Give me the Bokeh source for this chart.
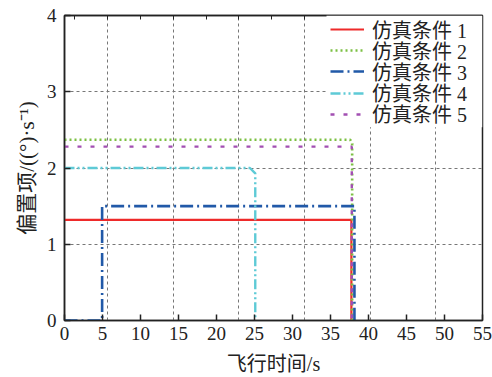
from bokeh.plotting import figure
from bokeh.models import (FixedTicker, LinearAxis, Legend, LegendItem, Range1d,
                          CustomLabelingPolicy, BoxAnnotation)
from bokeh.embed import file_html
from bokeh.resources import INLINE

# Bias term time histories for the five simulation conditions
x1 = [0, 37.75, 37.75]
y1 = [1.32, 1.32, 0]

x2 = [0, 37.6, 37.85, 37.85]
y2 = [2.37, 2.37, 2.32, 0]

x3 = [0, 4.95, 4.95, 38.15, 38.15]
y3 = [0, 0, 1.50, 1.50, 0]

x4 = [0, 24.4, 25.1, 25.1]
y4 = [2.0, 2.0, 1.93, 0]

x5 = [0, 37.8, 37.8]
y5 = [2.28, 2.28, 0]

labels = ["仿真条件 1", "仿真条件 2", "仿真条件 3", "仿真条件 4", "仿真条件 5"]
x_ticks = list(range(0, 56, 5))
y_ticks = [0, 1, 2, 3, 4]

FONT = "Liberation Serif, Noto Sans CJK SC"
W, H = 492, 377
LEFT, RIGHT, TOP, BOTTOM = 64, 10, 15, 56

p = figure(width=W, height=H, output_backend="svg", toolbar_location=None,
           x_range=Range1d(0, 55), y_range=Range1d(0, 4),
           min_border_left=LEFT, min_border_right=RIGHT, min_border_top=TOP,
           min_border_bottom=BOTTOM, background_fill_color="white",
           border_fill_color="white")

p.outline_line_color = "#222222"
p.outline_line_width = 1.5

# grid
p.xgrid.ticker = FixedTicker(ticks=[5.68, 14.32, 22.95, 31.59, 40.22, 48.86])
p.ygrid.ticker = FixedTicker(ticks=[1, 2, 3])
for g in (p.xgrid, p.ygrid):
    g.grid_line_color = "#777777"
    g.grid_line_dash = "3 3"
    g.grid_line_width = 1

for ax in (p.xaxis[0], p.yaxis[0]):
    ax.axis_line_color = "#222222"
    ax.axis_line_width = 1.5
    ax.major_tick_in = 6
    ax.major_tick_out = 0
    ax.minor_tick_in = 0
    ax.minor_tick_out = 0
    ax.major_tick_line_color = "#222222"
    ax.major_tick_line_width = 1.5
    ax.major_label_text_font = FONT
    ax.major_label_text_font_size = "19px"
    ax.major_label_text_color = "#222222"
    ax.axis_label_text_font = FONT
    ax.axis_label_text_font_style = "normal"
    ax.axis_label_text_color = "#222222"

p.xaxis.ticker = FixedTicker(ticks=x_ticks)
p.yaxis.ticker = FixedTicker(ticks=y_ticks)
p.xaxis.axis_label = "飞行时间/s"
p.yaxis.axis_label = "偏置项/((°)·s⁻¹)"
p.xaxis.axis_label_text_font_size = "20px"
p.yaxis.axis_label_text_font_size = "21px"
p.xaxis.major_label_standoff = 6
p.yaxis.major_label_standoff = 8
p.xaxis.axis_label_standoff = 10
p.yaxis.axis_label_standoff = 5

# top axis: tick marks only, no labels
hide_all = CustomLabelingPolicy(code="for (const i of indices) indices.unset(i)")
top = LinearAxis(ticker=FixedTicker(ticks=[1.36 + 4.318 * k for k in range(13)]),
                 major_label_policy=hide_all, major_label_text_font_size="0px",
                 major_tick_in=4, major_tick_out=0, minor_tick_in=0, minor_tick_out=0,
                 axis_line_color="#222222", major_tick_line_color="#222222",
                 axis_line_width=1.5)
p.add_layout(top, "above")

r1 = p.line(x1, y1, line_color="#ee2a2a", line_width=2.2)
r2 = p.line(x2, y2, line_color="#7cc043", line_width=2.6, line_dash="2 3")
r3 = p.line(x3, y3, line_color="#2159a8", line_width=2.6, line_dash="13 4 2 4")
r4 = p.line(x4, y4, line_color="#5ecad6", line_width=2.4, line_dash="10 3 2 3 2 3")
r5 = p.line(x5, y5, line_color="#a24fb2", line_width=2.4, line_dash="4 9")

# legend: white panel in the upper right, then one row per condition
frame_h = H - TOP - BOTTOM
px_x = 55 / (W - LEFT - RIGHT)
px_y = 4 / frame_h
p.add_layout(BoxAnnotation(left=(326 - LEFT) * px_x, right=55,
                           top=4, bottom=4 - (127 - TOP) * px_y,
                           fill_color="white", fill_alpha=1, line_color=None))

ROW_H, ROW_STEP = 30, 21.2
for i, (lab, r) in enumerate(zip(labels, [r1, r2, r3, r4, r5])):
    centre = 15 + ROW_STEP * i          # row centre below frame top, px
    bottom_from_frame_bottom = frame_h - (centre + ROW_H / 2)
    lg = Legend(items=[LegendItem(label=lab, renderers=[r])],
                location=(330 - LEFT, bottom_from_frame_bottom),
                border_line_color=None, background_fill_alpha=0,
                label_text_font=FONT, label_text_font_size="20px",
                label_text_color="#222222", glyph_width=34, glyph_height=ROW_H,
                label_height=ROW_H, spacing=0, padding=0, margin=0,
                label_standoff=8)
    p.add_layout(lg)

open("out.html", "w").write(file_html(p, INLINE))
